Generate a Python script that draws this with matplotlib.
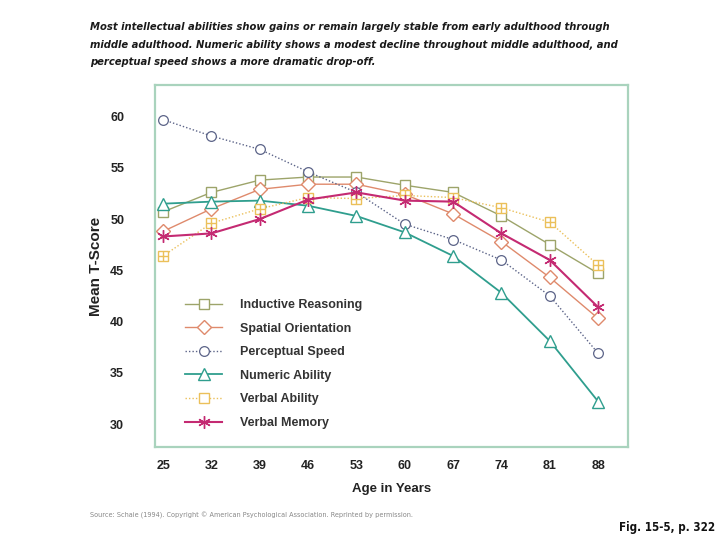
import matplotlib
matplotlib.use("Agg")
import matplotlib.pyplot as plt

ages = [25, 32, 39, 46, 53, 60, 67, 74, 81, 88]
inductive = [50.7, 52.6, 53.8, 54.1, 54.1, 53.3, 52.6, 50.3, 47.5, 44.7]
spatial = [48.8, 51.0, 52.9, 53.4, 53.4, 52.4, 50.5, 47.8, 44.3, 40.3]
perceptual = [59.7, 58.1, 56.8, 54.6, 52.6, 49.5, 48.0, 46.0, 42.5, 36.9]
numeric = [51.5, 51.7, 51.8, 51.3, 50.3, 48.7, 46.4, 42.8, 38.1, 32.2]
verbal_ability = [46.4, 49.6, 51.0, 52.1, 52.0, 52.3, 52.1, 51.1, 49.7, 45.5]
verbal_memory = [48.3, 48.6, 50.0, 51.9, 52.6, 51.8, 51.7, 48.6, 46.0, 41.4]
yticks = [30, 35, 40, 45, 50, 55, 60]

fig = plt.figure(figsize=(7.2, 5.4), dpi=100)
ax = fig.add_axes([0.215, 0.172, 0.657, 0.671])

frame_c = '#a9d3bd'
for s in ax.spines.values():
    s.set_color(frame_c)
    s.set_linewidth(1.6)

c_ind = '#9da46a'
c_spa = '#df8a6c'
c_per = '#5c6488'
c_num = '#2f9e8e'
c_va = '#ebc05a'
c_vm = '#c42a72'

ax.plot(ages, inductive, color=c_ind, lw=1.0, marker='s', ms=7, mfc='white', mec=c_ind, mew=1.0,
        label='Inductive Reasoning')
ax.plot(ages, spatial, color=c_spa, lw=1.0, marker='D', ms=7, mfc='white', mec=c_spa, mew=1.0,
        label='Spatial Orientation')
ax.plot(ages, perceptual, color=c_per, lw=1.0, ls=(0, (1, 1.5)), marker='o', ms=7, mfc='white', mec=c_per,
        mew=0.9, label='Perceptual Speed')
ax.plot(ages, numeric, color=c_num, lw=1.3, marker='^', ms=8, mfc='white', mec=c_num, mew=1.0,
        label='Numeric Ability')
ax.plot(ages, verbal_ability, color=c_va, lw=1.0, ls=(0, (1, 1.5)), marker='s', ms=7, mfc='white', mec=c_va,
        mew=1.0, label='Verbal Ability')
ax.plot(ages, verbal_ability, ls='none', marker='+', ms=7, mec=c_va, mew=1.0)
ax.plot(ages, verbal_memory, color=c_vm, lw=1.5, marker=(6, 2, 0), ms=9, mec=c_vm, mew=1.0,
        label='Verbal Memory')

ax.set_xlim(23.8, 92.3)
ax.set_ylim(27.75, 63.1)
ax.set_xticks(ages)
ax.set_yticks(yticks)
ax.tick_params(length=0)
ax.tick_params(axis='x', pad=9)
ax.tick_params(axis='y', pad=22)
for lab in ax.get_xticklabels() + ax.get_yticklabels():
    lab.set_fontweight('bold')
    lab.set_fontsize(9)
    lab.set_color('#222222')
    lab.set_family('Liberation Sans')

ax.set_xlabel('Age in Years', fontsize=9.5, fontweight='bold', family='Liberation Sans', color='#222222', labelpad=8)
ax.set_ylabel('Mean T-Score', fontsize=11, fontweight='bold', family='Liberation Sans', color='#222222', labelpad=5)

handles, labels = ax.get_legend_handles_labels()
leg = ax.legend(handles, labels, loc='upper left', bbox_to_anchor=(0.04, 0.44), frameon=False,
                prop={'family': 'Liberation Sans', 'weight': 'bold', 'size': 9}, handlelength=3.0,
                labelspacing=0.93, handletextpad=1.4)
for t in leg.get_texts():
    t.set_color('#333333')

title_kw = dict(fontsize=8.0, fontweight='bold', style='italic', family='DejaVu Sans',
                fontstretch='condensed', color='#1a1a1a', va='center')
fig.text(0.125, 0.950, 'Most intellectual abilities show gains or remain largely stable from early adulthood through',
         **title_kw)
fig.text(0.125, 0.917, 'middle adulthood. Numeric ability shows a modest decline throughout middle adulthood, and',
         **title_kw)
fig.text(0.125, 0.885, 'perceptual speed shows a more dramatic drop-off.', **title_kw)

fig.text(0.125, 0.046, 'Source: Schaie (1994). Copyright \u00a9 American Psychological Association. Reprinted by permission.',
         fontsize=5.2, family='DejaVu Sans', fontstretch='condensed', color='#888888', va='center')
fig.text(0.993, 0.024, 'Fig. 15-5, p. 322', fontsize=8.3, fontweight='bold', family='DejaVu Sans',
         fontstretch='condensed', color='#111111', ha='right', va='center')

fig.savefig('out.png', dpi=100, facecolor='white')
